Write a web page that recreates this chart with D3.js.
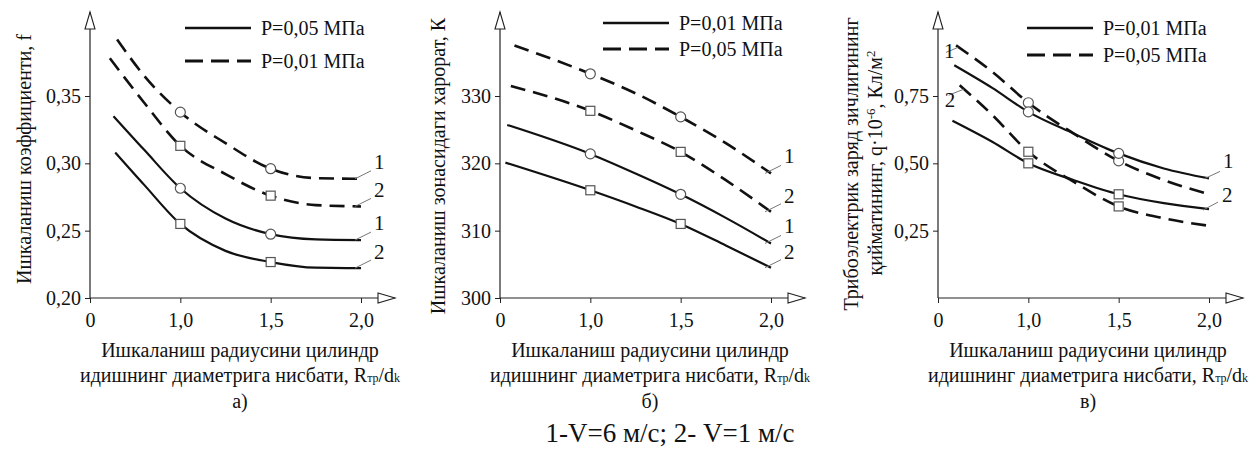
<!DOCTYPE html>
<html>
<head>
<meta charset="utf-8">
<script src="https://cdn.jsdelivr.net/npm/d3@7"></script>
<style>
  body { margin: 0; background: #fff; }
</style>
</head>
<body>
<svg id="chart" width="1258" height="450"></svg>
<script>
// x values (ratio R/d), "0" at the broken origin is drawn at 0.5
const xTicks = [0.5, 1.0, 1.5, 2.0];
const xTickLabels = ["0", "1,0", "1,5", "2,0"];

// panel a - friction coefficient f
const fDash1X = [0.65, 0.8, 1.0, 1.25, 1.5, 1.75, 2.0];
const fDash1Y = [0.392, 0.365, 0.338, 0.315, 0.296, 0.289, 0.2885];
const fDash2X = [0.61, 0.8, 1.0, 1.25, 1.5, 1.75, 2.0];
const fDash2Y = [0.378, 0.345, 0.313, 0.292, 0.276, 0.269, 0.268];
const fSolid1X = [0.63, 0.8, 1.0, 1.25, 1.5, 1.75, 2.0];
const fSolid1Y = [0.335, 0.31, 0.2815, 0.259, 0.2474, 0.2435, 0.243];
const fSolid2X = [0.64, 0.8, 1.0, 1.25, 1.5, 1.75, 2.0];
const fSolid2Y = [0.308, 0.284, 0.255, 0.235, 0.2267, 0.2225, 0.2222];
const fTicks = [0.20, 0.25, 0.30, 0.35];
const fTickLabels = ["0,20", "0,25", "0,30", "0,35"];

// panel b - temperature, K
const tDash1X = [0.58, 1.0, 1.25, 1.5, 1.75, 2.0];
const tDash1Y = [337.5, 333.3, 330.4, 326.9, 323.0, 318.5];
const tDash2X = [0.56, 1.0, 1.25, 1.5, 1.75, 2.0];
const tDash2Y = [331.5, 327.8, 324.9, 321.7, 317.5, 312.8];
const tSolid1X = [0.54, 1.0, 1.25, 1.5, 1.75, 2.0];
const tSolid1Y = [325.7, 321.4, 318.5, 315.4, 311.9, 308.1];
const tSolid2X = [0.53, 1.0, 1.25, 1.5, 1.75, 2.0];
const tSolid2Y = [320.1, 316.0, 313.6, 311.0, 307.8, 304.5];
const tTicks = [300, 310, 320, 330];
const tTickLabels = ["300", "310", "320", "330"];

// panel c - charge density q*10^-6
const qDash1X = [0.6, 0.8, 1.0, 1.25, 1.5, 1.75, 2.0];
const qDash1Y = [0.938, 0.84, 0.725, 0.611, 0.509, 0.438, 0.385];
const qSolid1X = [0.59, 0.8, 1.0, 1.25, 1.5, 1.75, 2.0];
const qSolid1Y = [0.864, 0.78, 0.691, 0.611, 0.537, 0.481, 0.444];
const qDash2X = [0.62, 0.8, 1.0, 1.25, 1.5, 1.75, 2.0];
const qDash2Y = [0.79, 0.68, 0.543, 0.432, 0.340, 0.296, 0.268];
const qSolid2X = [0.58, 0.8, 1.0, 1.25, 1.5, 1.75, 2.0];
const qSolid2Y = [0.658, 0.58, 0.5, 0.438, 0.385, 0.352, 0.33];
const qTicks = [0.25, 0.50, 0.75];
const qTickLabels = ["0,25", "0,50", "0,75"];

const markerX = [1.0, 1.5];

const svg = d3.select("#chart");

const zip = (xs, ys) => xs.map((x, i) => ({ x: x, y: ys[i] }));

function panel(opt) {
  const g = svg.append("g");
  const x0 = opt.left, y0 = 298;
  const xScale = d3.scaleLinear().domain([0.5, 2.0]).range([x0, x0 + 271]);
  const yScale = d3.scaleLinear().domain(opt.yDomain).range([y0, 96]);

  // axes lines with open arrow heads
  g.append("line").attr("x1", x0).attr("y1", y0).attr("x2", x0 + 305).attr("y2", y0)
    .attr("stroke", "#222").attr("stroke-width", 1.2);
  g.append("line").attr("x1", x0).attr("y1", y0).attr("x2", x0).attr("y2", 12)
    .attr("stroke", "#222").attr("stroke-width", 1.2);
  g.append("path")
    .attr("d", `M${x0 + 288},${y0 - 5}L${x0 + 305},${y0}L${x0 + 288},${y0 + 5}Z`)
    .attr("fill", "#fff").attr("stroke", "#222").attr("stroke-width", 1.1);
  g.append("path")
    .attr("d", `M${x0 - 5},${29}L${x0},${12}L${x0 + 5},${29}Z`)
    .attr("fill", "#fff").attr("stroke", "#222").attr("stroke-width", 1.1);

  // x ticks
  const xAxis = d3.axisBottom(xScale).tickValues(xTicks).tickSize(5).tickPadding(6)
    .tickFormat((d, i) => xTickLabels[i]);
  const gx = g.append("g").attr("transform", `translate(0,${y0})`).call(xAxis);
  gx.select(".domain").remove();
  gx.selectAll("line").attr("stroke", "#222");
  gx.selectAll("text").style("font-size", "20px").attr("dy", "0.9em");

  // y ticks
  const yAxis = d3.axisLeft(yScale).tickValues(opt.yTicks).tickSize(5).tickPadding(4)
    .tickFormat((d, i) => opt.yTickLabels[i]);
  const gy = g.append("g").attr("transform", `translate(${x0},0)`).call(yAxis);
  gy.select(".domain").remove();
  gy.selectAll("line").attr("stroke", "#222");
  gy.selectAll("text").style("font-size", "20px");

  const line = d3.line().x(d => xScale(d.x)).y(d => yScale(d.y)).curve(d3.curveMonotoneX);

  opt.series.forEach(s => {
    const pts = zip(s.x, s.y);
    g.append("path").attr("d", line(pts)).attr("fill", "none")
      .attr("stroke", "#111")
      .attr("stroke-width", s.dash ? 2.6 : 2.2)
      .attr("stroke-dasharray", s.dash ? "15,8" : null);
  });

  // markers
  opt.series.forEach(s => {
    const pts = zip(s.x, s.y).filter(p => markerX.includes(p.x));
    pts.forEach(p => {
      if (s.v === 1) {
        g.append("circle").attr("cx", xScale(p.x)).attr("cy", yScale(p.y)).attr("r", 5)
          .attr("fill", "#fff").attr("stroke", "#555").attr("stroke-width", 1.2);
      } else {
        g.append("rect").attr("x", xScale(p.x) - 4.5).attr("y", yScale(p.y) - 4.5)
          .attr("width", 9).attr("height", 9)
          .attr("fill", "#fff").attr("stroke", "#555").attr("stroke-width", 1.2);
      }
    });
  });

  // curve number labels with leader lines
  opt.labels.forEach(l => {
    const s = opt.series[l.s];
    const i = l.start ? 0 : s.x.length - 1;
    const px = xScale(s.x[i]), py = yScale(s.y[i]);
    g.append("line")
      .attr("x1", px + l.a[0]).attr("y1", py + l.a[1])
      .attr("x2", px + l.b[0]).attr("y2", py + l.b[1])
      .attr("stroke", "#777").attr("stroke-width", 1);
    g.append("text").attr("x", px + l.t[0]).attr("y", py + l.t[1])
      .style("font-size", "21px").text(l.text);
  });

  // legend
  const lx = x0 + opt.legend.dx;
  opt.legend.rows.forEach((r, i) => {
    const ly = opt.legend.y[i];
    g.append("line").attr("x1", lx).attr("x2", lx + 66).attr("y1", ly).attr("y2", ly)
      .attr("stroke", "#111").attr("stroke-width", r.dash ? 2.8 : 2.6)
      .attr("stroke-dasharray", r.dash ? "18,8" : null);
    g.append("text").attr("x", lx + 76).attr("y", ly + 7)
      .style("font-size", "20px").text(r.text);
  });

  // y axis title
  opt.yTitle.forEach(t => {
    const tx = g.append("text")
      .attr("transform", `translate(${t.x},${t.y}) rotate(-90)`)
      .attr("text-anchor", "middle").style("font-size", "20px");
    t.parts.forEach(p => {
      const sp = tx.append("tspan").text(p.s);
      if (p.sup) sp.attr("baseline-shift", "super").style("font-size", "13px");
    });
  });

  // x axis title
  const cx = x0 + 150;
  g.append("text").attr("x", cx).attr("y", 357).attr("text-anchor", "middle")
    .style("font-size", "20px").text("Ишкаланиш радиусини цилиндр");
  const t2 = g.append("text").attr("x", cx).attr("y", 382).attr("text-anchor", "middle")
    .style("font-size", "20px");
  t2.append("tspan").text("идишнинг диаметрига нисбати,  R");
  t2.append("tspan").text("тр").style("font-size", "12px");
  t2.append("tspan").text("/d");
  t2.append("tspan").text("k").style("font-size", "12px");
  g.append("text").attr("x", cx).attr("y", 408).attr("text-anchor", "middle")
    .style("font-size", "20px").text(opt.tag);
}

const rightLabels = [
  { s: 0, text: "1", a: [-6, 0], b: [10, -8], t: [13, -10] },
  { s: 1, text: "2", a: [-6, 0], b: [10, -8], t: [13, -9] },
  { s: 2, text: "1", a: [-6, 0], b: [10, -8], t: [13, -10] },
  { s: 3, text: "2", a: [-6, 0], b: [10, -8], t: [13, -9] }
];

panel({
  left: 90,
  yDomain: [0.20, 0.35],
  yTicks: fTicks, yTickLabels: fTickLabels,
  series: [
    { x: fDash1X, y: fDash1Y, dash: true, v: 1 },
    { x: fDash2X, y: fDash2Y, dash: true, v: 2 },
    { x: fSolid1X, y: fSolid1Y, dash: false, v: 1 },
    { x: fSolid2X, y: fSolid2Y, dash: false, v: 2 }
  ],
  labels: rightLabels,
  legend: { dx: 95, y: [28, 61], rows: [{ dash: false, text: "P=0,05 МПа" }, { dash: true, text: "P=0,01 МПа" }] },
  yTitle: [{ x: 31, y: 159, parts: [{ s: "Ишкаланиш коэффициенти, f" }] }],
  tag: "а)"
});

panel({
  left: 500,
  yDomain: [300, 330],
  yTicks: tTicks, yTickLabels: tTickLabels,
  series: [
    { x: tDash1X, y: tDash1Y, dash: true, v: 1 },
    { x: tDash2X, y: tDash2Y, dash: true, v: 2 },
    { x: tSolid1X, y: tSolid1Y, dash: false, v: 1 },
    { x: tSolid2X, y: tSolid2Y, dash: false, v: 2 }
  ],
  labels: rightLabels,
  legend: { dx: 103, y: [23, 49], rows: [{ dash: false, text: "P=0,01 МПа" }, { dash: true, text: "P=0,05 МПа" }] },
  yTitle: [{ x: 445, y: 166, parts: [{ s: "Ишкаланиш зонасидаги харорат, К" }] }],
  tag: "б)"
});

panel({
  left: 938,
  yDomain: [0, 0.75],
  yTicks: qTicks, yTickLabels: qTickLabels,
  series: [
    { x: qDash1X, y: qDash1Y, dash: true, v: 1 },
    { x: qSolid1X, y: qSolid1Y, dash: false, v: 1 },
    { x: qDash2X, y: qDash2Y, dash: true, v: 2 },
    { x: qSolid2X, y: qSolid2Y, dash: false, v: 2 }
  ],
  labels: [
    { s: 0, start: true, text: "1", a: [-10, 7], b: [2, 2], t: [-12, 13] },
    { s: 2, start: true, text: "2", a: [-11, 10], b: [4, 4], t: [-15, 22] },
    { s: 1, text: "1", a: [-4, 0], b: [11, -7], t: [14, -10] },
    { s: 3, text: "2", a: [-6, 1], b: [9, -7], t: [13, -7] }
  ],
  legend: { dx: 89, y: [28, 55], rows: [{ dash: false, text: "P=0,01 МПа" }, { dash: true, text: "P=0,05 МПа" }] },
  yTitle: [
    { x: 858, y: 164, parts: [{ s: "Трибоэлектрик заряд зичлигининг" }] },
    { x: 882, y: 163, parts: [{ s: "қийматининг, q·10" }, { s: "-6", sup: true }, { s: ", Кл/м" }, { s: "2", sup: true }] }
  ],
  tag: "в)"
});

svg.append("text").attr("x", 670).attr("y", 442).attr("text-anchor", "middle")
  .style("font-size", "27px").text("1-V=6 м/с;  2- V=1 м/с");

// serif face for every label
svg.selectAll("text").style("font-family", '"Liberation Serif"').attr("fill", "#111");
</script>
</body>
</html>
